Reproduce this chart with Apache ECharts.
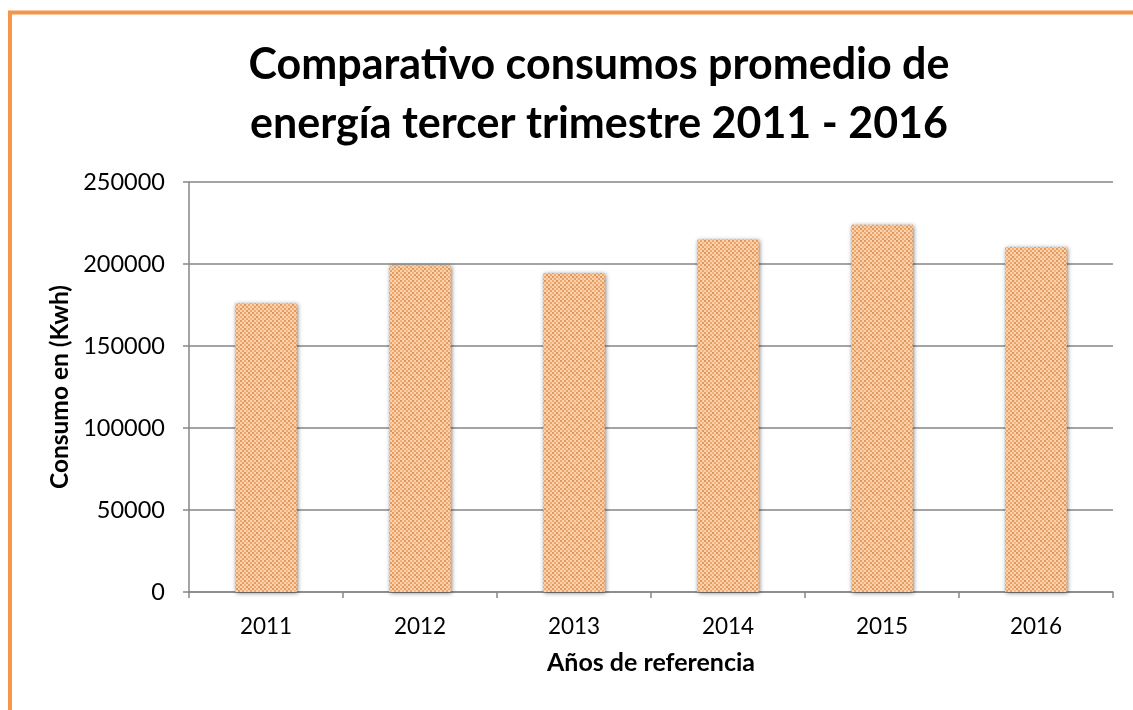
<!DOCTYPE html>
<html>
<head>
<meta charset="utf-8">
<script src="https://cdn.jsdelivr.net/npm/echarts@6/dist/echarts.min.js"></script>
<style>
html,body{margin:0;padding:0;background:#fff;}
#chart{width:1133px;height:710px;}
</style>
</head>
<body>
<div id="chart"></div>
<script>
const titleLines = ['Comparativo consumos promedio de', 'energía tercer trimestre 2011 - 2016'];
const categories = ['2011', '2012', '2013', '2014', '2015', '2016'];
const consumo = [176000, 199300, 194500, 215000, 224000, 210300];
const yTicks = [0, 50000, 100000, 150000, 200000, 250000];
const yAxisName = 'Consumo en (Kwh)';
const xAxisName = 'Años de referencia';

// textured fill for bars
function makePattern() {
  const s = 2;
  const c = document.createElement('canvas');
  c.width = 6 * s; c.height = 6 * s;
  const ctx = c.getContext('2d');
  ctx.fillStyle = '#F9D2AE';
  ctx.fillRect(0, 0, 6 * s, 6 * s);
  const dots = [[0,0,'#E8985B'],[2,0,'#EFA872'],[4,0,'#E59358'],
                [1,1,'#EDA26A'],[3,1,'#F3B886'],[5,1,'#EA9C62'],
                [0,2,'#F0AC76'],[2,2,'#E39254'],[4,2,'#EEA66E'],
                [1,3,'#E89A5E'],[3,3,'#ECA066'],[5,3,'#F2B584'],
                [0,4,'#E6965A'],[2,4,'#F1B07C'],[4,4,'#E99D61'],
                [1,5,'#EFA870'],[3,5,'#E59558'],[5,5,'#EDA46B']];
  dots.forEach(d => { ctx.fillStyle = d[2]; ctx.fillRect(d[0] * s, d[1] * s, s, s); });
  return c;
}

const chart = echarts.init(document.getElementById('chart'), null, {renderer: 'canvas'});
const font = 'Lato';
chart.setOption({
  animation: false,
  graphic: [{
    type: 'rect',
    shape: {x: 10, y: 12.5, width: 1300, height: 900},
    style: {fill: 'none', stroke: '#F79646', lineWidth: 4},
    z: 100
  }],
  title: {
    text: titleLines.join('\n'),
    left: 594,
    top: 31,
    textAlign: 'center',
    textStyle: {fontFamily: font, fontWeight: 'bold', fontSize: 43, lineHeight: 59, color: '#000'}
  },
  grid: {left: 189, right: 20, top: 182, bottom: 118},
  xAxis: {
    type: 'category',
    data: categories,
    name: xAxisName,
    nameLocation: 'middle',
    nameGap: 58,
    nameTextStyle: {fontFamily: font, fontWeight: 'bold', fontSize: 25, color: '#000'},
    axisLine: {lineStyle: {color: '#868686', width: 1.5}},
    axisTick: {show: true, alignWithLabel: false, length: 6, lineStyle: {color: '#868686', width: 1.5}},
    axisLabel: {fontFamily: font, fontSize: 22.5, color: '#000', margin: 23}
  },
  yAxis: {
    type: 'value',
    min: yTicks[0],
    max: yTicks[yTicks.length - 1],
    interval: yTicks[1] - yTicks[0],
    name: yAxisName,
    nameLocation: 'middle',
    nameGap: 114,
    nameTextStyle: {fontFamily: font, fontWeight: 'bold', fontSize: 24.5, color: '#000'},
    axisLine: {show: true, lineStyle: {color: '#868686', width: 1.5}},
    axisTick: {show: true, length: 6, lineStyle: {color: '#868686', width: 1.5}},
    splitLine: {show: true, lineStyle: {color: '#868686', width: 1.5}},
    axisLabel: {fontFamily: font, fontSize: 23.5, color: '#000', margin: 24, formatter: v => String(v)}
  },
  series: [{
    type: 'bar',
    data: consumo,
    barWidth: '40%',
    itemStyle: {
      color: {image: makePattern(), repeat: 'repeat'},
      shadowColor: 'rgba(0,0,0,0.5)',
      shadowBlur: 4,
      shadowOffsetX: 1,
      shadowOffsetY: 1
    }
  }]
});
</script>
</body>
</html>
